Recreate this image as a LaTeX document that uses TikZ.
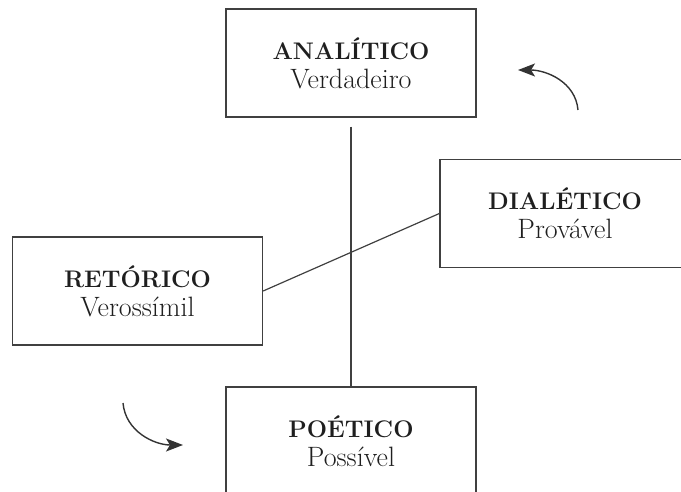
\documentclass[tikz,border=0pt]{standalone}
\usepackage{fontspec}
\usepackage{tikz}
\usetikzlibrary{positioning, arrows.meta}
\newcommand{\boxtitle}[1]{{\fontsize{24}{28}\selectfont\bfseries #1}}

\begin{document}
\begin{tikzpicture}[x=1pt, y=-1pt, %
        box/.style={draw=black!75, line width=1.3pt, minimum width=250pt,
          minimum height=108pt, align=center, inner sep=0pt,
          font=\fontsize{28}{29}\selectfont, text=black!88},
        conn/.style={draw=black!75, line width=1.2pt},
        turn/.style={draw=black!80, line width=1.4pt,
          -{Stealth[length=17pt, width=13pt, inset=4pt]}}
        ]
        \useasboundingbox (0,0) rectangle (681,492);
        \node[box] (A) at (351,63) {\boxtitle{ANALÍTICO}\\Verdadeiro};
        \node[box] (D) at (565,213.5) {\boxtitle{DIALÉTICO}\\Provável};
        \node[box] (R) at (137.5,291) {\boxtitle{RETÓRICO}\\Verossímil};
        \node[box] (P) at (351,441) {\boxtitle{POÉTICO}\\Possível};
        \draw[conn] ([yshift=-9pt]A.south) -- (P.north);
        \draw[conn] (R.east) -- (D.west);
        \coordinate (t1) at (578,110);
        \coordinate (h1) at (518,70);
        \coordinate (t2) at (123,403);
        \coordinate (h2) at (183,445);
        \draw[turn] (t1) to[out=95, in=0] (h1);
        \draw[turn] (t2) to[out=-85, in=180] (h2);
      \end{tikzpicture}
\end{document}
